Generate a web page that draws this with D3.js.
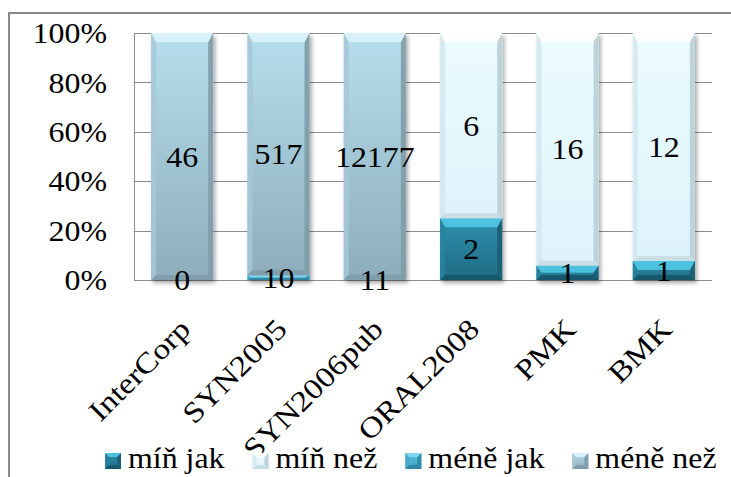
<!DOCTYPE html>
<html>
<head>
<meta charset="utf-8">
<script src="https://cdn.jsdelivr.net/npm/d3@7"></script>
<style>
  html, body { margin: 0; padding: 0; background: #fff; }
</style>
</head>
<body>
<svg id="chart" width="731" height="477"></svg>
<script>
// Corpora and the counts of each comparative construction
const categories = ["InterCorp", "SYN2005", "SYN2006pub", "ORAL2008", "PMK", "BMK"];
const seriesNames = ["míň jak", "míň než", "méně jak", "méně než"];
const minJak  = [null, null, null, 2, 1, 1];
const minNez  = [null, null, null, 6, 16, 12];
const meneJak = [0, 10, 11, null, null, null];
const meneNez = [46, 517, 12177, null, null, null];
const yTicks = [0, 0.2, 0.4, 0.6, 0.8, 1];

const seriesValues = [minJak, minNez, meneJak, meneNez];

// Fill styles for each series: body gradient and bevel tones
const styles = [
  { top: "#2E90AD", bottom: "#1F6B82", bevelTop: "#52C6E6", left: "#2682A0", right: "#1A5E73", bevelBottom: "#175566" },
  { top: "#ECFBFF", bottom: "#DDF4FA", bevelTop: "#FFFFFF", left: "#D2E7ED", right: "#B9CED5", bevelBottom: "#C6DAE0" },
  { top: "#55BFDF", bottom: "#3C9FBF", bevelTop: "#86D9F0", left: "#44AACA", right: "#2F88A5", bevelBottom: "#2D809B" },
  { top: "#B7DEEC", bottom: "#8EADBB", bevelTop: "#DCF2FA", left: "#A6C8D6", right: "#7E9CA9", bevelBottom: "#7D9AA7" }
];

const FONT = "Liberation Serif";
const FS = 29;
const TXT_SX = 1.1;

const svg = d3.select("#chart");
const defs = svg.append("defs");

styles.forEach((s, i) => {
  const g = defs.append("linearGradient").attr("id", "body" + i)
    .attr("x1", 0).attr("y1", 0).attr("x2", 0).attr("y2", 1);
  g.append("stop").attr("offset", "0%").attr("stop-color", s.top);
  g.append("stop").attr("offset", "100%").attr("stop-color", s.bottom);
});

const shadow = defs.append("filter").attr("id", "shadow")
  .attr("x", "-20%").attr("y", "-20%").attr("width", "140%").attr("height", "140%");
shadow.append("feDropShadow").attr("dx", 2).attr("dy", 3)
  .attr("stdDeviation", 2).attr("flood-color", "#000").attr("flood-opacity", 0.35);

// Outer frame
svg.append("path").attr("d", "M9,477V13H731")
  .attr("fill", "none").attr("stroke", "#8a8a8a").attr("stroke-width", 2);

const x = d3.scaleBand().domain(categories).range([134, 712])
  .paddingInner(0.356).paddingOuter(0.178);
const y = d3.scaleLinear().domain([0, 1]).range([280, 33]);

// Gridlines
svg.append("g").selectAll("line").data(yTicks).join("line")
  .attr("x1", 134).attr("x2", 712)
  .attr("y1", d => Math.round(y(d)) + 0.5).attr("y2", d => Math.round(y(d)) + 0.5)
  .attr("stroke", "#8c8c8c").attr("stroke-width", 1);
svg.append("line").attr("x1", 134.5).attr("x2", 134.5)
  .attr("y1", y(1)).attr("y2", y(0) + 0.5)
  .attr("stroke", "#8c8c8c").attr("stroke-width", 1);

// Y tick labels
svg.append("g").selectAll("text").data(yTicks).join("text")
  .attr("transform", d => `translate(107,${y(d)}) scale(${TXT_SX},1)`)
  .attr("text-anchor", "end").attr("dy", "0.35em")
  .attr("font-family", FONT).attr("font-size", FS)
  .text(d => d3.format(".0%")(d));

// Stacked percentage data
const rows = categories.map((c, ci) => {
  const vals = seriesValues.map(s => s[ci]);
  const total = d3.sum(vals.map(v => v || 0));
  let acc = 0;
  const segs = vals.map((v, si) => {
    const y0 = acc / total;
    acc += (v || 0);
    return { cat: c, si, value: v, y0, y1: acc / total };
  });
  return { cat: c, segs };
});

function bevelSegment(g, x0, w, yTop, yBot, s, bs, bt, bb) {
  const h = yBot - yTop;
  if (h <= 0) return;
  const sw = Math.min(bs, w / 2);
  const th = Math.min(bt, h / 2);
  const bh = Math.min(bb, h / 2);
  const x1 = x0 + w;
  g.append("rect").attr("x", x0).attr("y", yTop).attr("width", w).attr("height", h)
    .attr("fill", `url(#body${s})`);
  const st = styles[s];
  const poly = pts => pts.map(p => p.join(",")).join(" ");
  // left and right bevels
  g.append("polygon").attr("points", poly([[x0, yTop], [x0 + sw, yTop + th], [x0 + sw, yBot - bh], [x0, yBot]]))
    .attr("fill", st.left).attr("opacity", 0.85);
  g.append("polygon").attr("points", poly([[x1, yTop], [x1 - sw, yTop + th], [x1 - sw, yBot - bh], [x1, yBot]]))
    .attr("fill", st.right).attr("opacity", 0.9);
  // top and bottom bevels
  g.append("polygon").attr("points", poly([[x0, yTop], [x1, yTop], [x1 - sw, yTop + th], [x0 + sw, yTop + th]]))
    .attr("fill", st.bevelTop).attr("opacity", 0.9);
  g.append("polygon").attr("points", poly([[x0, yBot], [x1, yBot], [x1 - sw, yBot - bh], [x0 + sw, yBot - bh]]))
    .attr("fill", st.bevelBottom).attr("opacity", 0.85);
}

const bars = svg.append("g").selectAll("g").data(rows).join("g")
  .attr("filter", "url(#shadow)");
bars.each(function (row) {
  const g = d3.select(this);
  row.segs.forEach(seg => {
    bevelSegment(g, x(row.cat), x.bandwidth(), y(seg.y1), y(seg.y0), seg.si, 5, 9, 5);
  });
});

// Value labels
const labelData = rows.flatMap(r => r.segs.filter(s => s.value !== null));
svg.append("g").selectAll("text").data(labelData).join("text")
  .attr("transform", d => `translate(${x(d.cat) + x.bandwidth() / 2},${y((d.y0 + d.y1) / 2)}) scale(${TXT_SX},1)`)
  .attr("text-anchor", "middle").attr("dy", "0.35em")
  .attr("font-family", FONT).attr("font-size", FS)
  .text(d => d.value);

// Category labels, rotated
svg.append("g").selectAll("text").data(categories).join("text")
  .attr("transform", d => `translate(${x(d) + x.bandwidth() / 2 + 10},331) rotate(-45) scale(1.15,1)`)
  .attr("text-anchor", "end")
  .attr("font-family", FONT).attr("font-size", FS)
  .text(d => d);

// Legend
const legend = svg.append("g");
let lx = 105;
seriesNames.forEach((name, i) => {
  const item = legend.append("g");
  bevelSegment(item, lx, 16, 453, 469, i, 4, 4, 4);
  const t = item.append("text")
    .attr("transform", `translate(${lx + 23},468) scale(${TXT_SX},1)`)
    .attr("font-family", FONT).attr("font-size", FS)
    .text(name);
  const w = t.node().getComputedTextLength() * TXT_SX;
  lx = lx + 23 + w + 28;
});
</script>
</body>
</html>
